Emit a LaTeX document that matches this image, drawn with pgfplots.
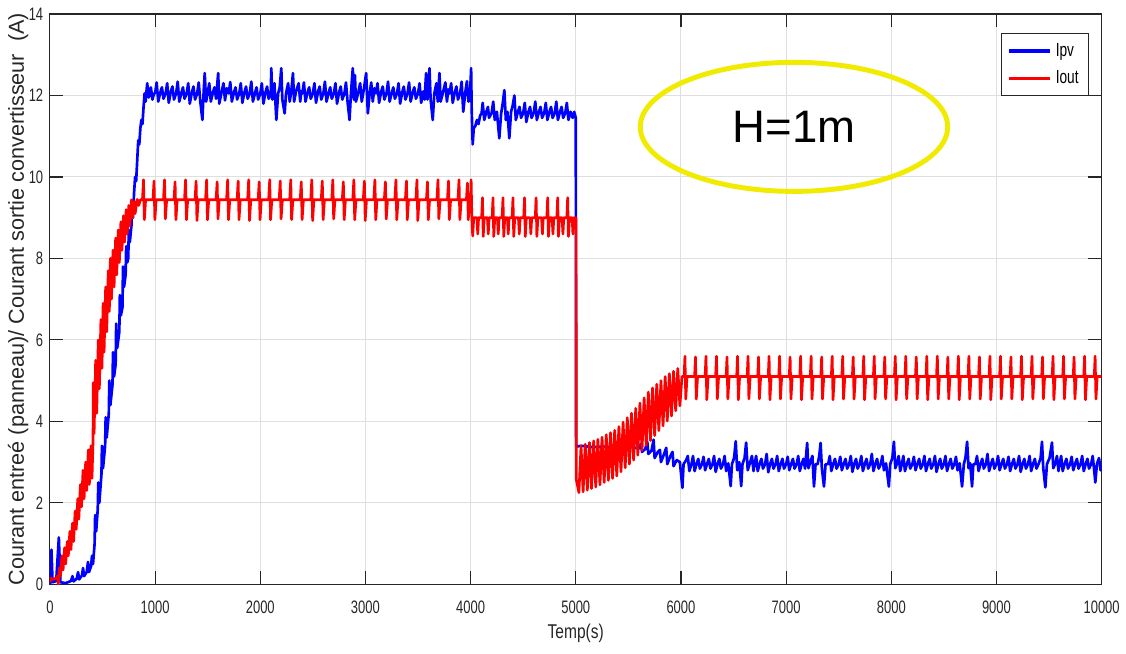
\documentclass[border=0pt]{standalone}
\usepackage{fontspec}
\setmainfont{Liberation Sans}
\newfontfamily\condf[FakeStretch=0.72]{Liberation Sans}
\newfontfamily\condfb[FakeStretch=0.78]{Liberation Sans}
\usepackage{pgfplots}
\pgfplotsset{compat=1.18}
\definecolor{axgray}{RGB}{38,38,38}
\definecolor{gridgray}{RGB}{223,223,223}
\definecolor{ellyellow}{RGB}{240,235,0}
\definecolor{pvblue}{RGB}{0,0,255}
\definecolor{outred}{RGB}{255,0,0}
\newcommand\tickf{\condf\fontsize{9.5}{11}\selectfont}
\newcommand\legf{\condf\fontsize{10}{12}\selectfont}
\newcommand\xlabf{\condfb\fontsize{10.5}{12}\selectfont}
\newcommand\ylabf{\fontsize{11.4}{13}\selectfont}
\begin{document}
\begin{tikzpicture}
\begin{axis}[
  scale only axis, width=554.2pt, height=300.5pt,
  xmin=0, xmax=10000, ymin=0, ymax=14,
  xtick={0,1000,...,10000}, ytick={0,2,...,14},
  scaled x ticks=false, scaled y ticks=false,
  /pgf/number format/1000 sep={},
  /pgf/number format/assume math mode=true,
  tick label style={font=\tickf, text=axgray},
  xticklabel style={yshift=-5pt},
  grid=major, major grid style={draw=gridgray, line width=0.5pt},
  axis line style={draw=axgray, line width=0.6pt},
  major tick length=7pt,
  tick style={draw=axgray, line width=0.6pt},
  xlabel={Temp(s)},
  ylabel={Courant entreé (panneau)/ Courant sortie convertisseur\ \ (A)},
  xlabel style={font=\xlabf, text=axgray, at={(axis description cs:0.5,-0.0859)}, anchor=center},
  ylabel style={font=\ylabf, text=axgray, at={(axis description cs:-0.0303,0.5)}, anchor=center},
  legend style={at={(0.9877,0.9667)}, anchor=north east, font=\legf, draw=axgray, line width=0.6pt, inner sep=3pt, row sep=2pt},
  legend cell align=left,
  legend image code/.code={\draw[line width=1.8pt] (0pt,0pt) -- (22pt,0pt);},
]
% Ipv
\addplot[pvblue, line width=1.4pt, line join=round] coordinates {
(0,0)(15,0.85)(25,0.05)(60,0.08)(85,1.15)(100,0.05)(150,0.03)(200,0.08)(215,0.2)(225,0.07)(255,0.14)(268,0.3)(278,0.12)(305,0.22)(315,0.4)(325,0.2)(350,0.3)(362,0.55)(372,0.3)(392,0.45)(400,0.7)(410,0.5)
(425,1.0)(430,1.7)(440,1.3)(455,1.85)(460,2.5)(470,2.0)(490,2.7)(495,3.4)(505,2.85)(525,3.4)(530,4.1)(540,3.6)(560,4.2)(565,5.0)(575,4.4)(595,4.9)(600,5.7)(610,5.1)(625,5.4)(630,6.4)(640,5.8)(660,6.2)(665,7.1)(675,6.6)(690,6.8)(695,7.8)(705,7.3)(720,7.6)(725,8.3)(735,7.9)(745,8.0)(750,8.7)(760,8.4)(775,8.8)(780,9.3)(790,9.0)(800,9.6)(810,10.0)(820,9.9)(830,10.4)(840,10.9)(850,10.8)(860,11.2)(870,11.4)(880,11.3)(890,11.7)(900,12.05)(910,11.85)(925,12.3)(940,11.95)(960,12.2)(975,11.9)(990,12.05)
(1000,12.05)(1015,12.32)(1030,11.85)(1050,12.08)(1065,12.2)(1080,11.92)
(1100,12.05)(1115,12.3)(1130,11.82)(1150,12.1)(1165,12.22)(1180,11.9)
(1200,12.05)(1215,12.34)(1230,11.85)(1250,12.06)(1265,12.2)(1280,11.92)
(1300,12.05)(1315,12.3)(1330,11.8)(1350,12.08)(1365,12.22)(1380,11.9)
(1400,12.05)(1415,12.32)(1430,11.85)(1450,11.4)(1462,12.1)(1472,12.55)(1485,11.85)
(1500,12.05)(1515,12.3)(1530,11.85)(1550,12.08)(1565,12.2)(1580,11.92)
(1600,12.55)(1610,11.8)(1630,12.05)(1650,12.3)(1665,11.88)(1680,12.18)
(1700,12.05)(1715,12.33)(1730,11.85)(1750,12.08)(1765,12.2)(1780,11.9)
(1800,12.05)(1815,12.3)(1830,11.82)(1850,12.08)(1865,12.22)(1880,11.92)
(1900,12.05)(1915,12.34)(1930,11.85)(1950,12.06)(1965,12.2)(1980,11.9)
(2000,12.05)(2015,12.3)(2030,11.8)(2050,12.08)(2065,12.22)(2080,11.92)
(2100,12.05)(2105,12.67)(2115,11.9)(2135,12.3)(2153,11.4)(2170,12.05)(2185,12.2)
(2200,12.67)(2210,11.9)(2232,11.56)(2245,12.05)(2265,12.3)(2280,11.85)(2295,12.1)
(2311,12.55)(2322,11.85)(2340,12.1)(2365,12.3)(2380,11.85)(2390,12.1)
(2400,12.05)(2415,12.32)(2430,11.85)(2450,12.08)(2465,12.2)(2480,11.92)
(2500,12.05)(2515,12.3)(2530,11.82)(2550,12.1)(2565,12.22)(2580,11.9)
(2600,12.05)(2615,12.34)(2630,11.85)(2650,12.06)(2665,12.2)(2680,11.92)
(2700,12.05)(2715,12.3)(2730,11.8)(2750,12.08)(2765,12.22)(2780,11.9)
(2800,12.05)(2815,12.32)(2830,11.85)(2849,11.4)(2862,12.05)(2880,12.67)(2890,11.9)
(2900,12.5)(2910,11.85)(2930,12.05)(2950,12.3)(2965,11.85)(2985,12.15)
(3007,12.55)(3023,11.56)(3040,12.05)(3055,12.32)(3070,11.85)(3085,12.18)
(3100,12.05)(3115,12.3)(3130,11.82)(3150,12.1)(3165,12.22)(3180,11.9)
(3200,12.05)(3215,12.34)(3230,11.85)(3250,12.06)(3265,12.2)(3280,11.92)
(3300,12.05)(3315,12.3)(3330,11.8)(3350,12.08)(3365,12.22)(3380,11.9)
(3400,12.05)(3415,12.32)(3430,11.85)(3450,12.08)(3465,12.2)(3480,11.92)
(3500,12.05)(3515,12.3)(3530,11.82)(3550,12.1)(3562,11.9)
(3577,12.55)(3590,11.9)(3609,12.67)(3620,11.9)(3640,11.4)(3655,12.05)(3675,12.3)(3688,11.85)
(3704,12.55)(3715,11.85)(3735,12.05)(3760,12.32)(3775,11.85)(3788,12.15)
(3800,12.05)(3815,12.3)(3830,11.82)(3850,12.08)(3865,12.22)(3880,11.9)
(3900,12.05)(3915,12.34)(3930,11.6)(3950,12.08)(3965,12.35)(3980,11.85)(3995,12.05)
(4005,12.67)(4010,11.7)(4020,10.8)(4030,11.2)(4045,11.25)(4060,11.4)(4075,11.3)(4090,11.5)(4105,11.57)(4115,11.82)(4130,11.4)(4150,11.6)(4165,11.72)(4175,11.45)(4200,11.57)(4215,11.85)(4230,11.4)(4250,11.6)(4273,10.95)(4290,11.55)(4305,11.8)(4321,12.13)(4335,11.4)(4350,11.6)(4368,10.95)(4385,11.6)(4400,11.75)(4416,12.0)(4430,11.4)(4450,11.6)(4465,11.72)(4480,11.45)(4500,11.57)(4515,11.82)(4530,11.35)(4550,11.6)(4565,11.72)(4580,11.45)(4600,11.57)(4615,11.85)(4630,11.4)(4650,11.6)(4665,11.72)(4680,11.45)(4700,11.57)(4715,11.82)(4730,11.4)(4750,11.6)(4765,11.72)(4780,11.45)(4800,11.57)(4815,11.85)(4830,11.4)(4850,11.6)(4865,11.72)(4880,11.45)(4900,11.57)(4915,11.82)(4930,11.4)(4950,11.6)(4970,11.45)(4985,11.6)(5000,11.45)(5003,3.38)
(5050,3.4)(5150,3.37)(5250,3.38)(5350,3.36)(5450,3.37)(5550,3.36)(5600,3.33)(5620,3.45)(5630,3.25)(5660,3.32)(5680,3.5)(5690,3.2)(5720,3.28)(5740,3.55)(5750,3.1)(5780,3.25)(5800,3.3)(5810,3.0)(5840,3.2)(5860,3.35)(5870,2.95)(5900,3.15)(5920,3.25)(5930,2.9)(5960,3.05)(5990,3.0)(6005,2.6)(6014,2.37)(6025,2.95)(6050,3.05)(6065,3.15)(6080,2.78)
(6100,2.95)(6115,3.15)(6130,2.78)(6150,2.97)(6165,3.08)(6180,2.84)
(6200,2.95)(6215,3.13)(6230,2.8)(6250,2.97)(6265,3.08)(6280,2.84)
(6300,2.95)(6315,3.15)(6330,2.76)(6350,2.97)(6365,3.08)(6380,2.84)
(6400,2.95)(6415,3.15)(6430,2.78)(6450,2.97)(6473,2.41)(6485,2.95)
(6505,3.1)(6521,3.51)(6535,2.8)(6555,3.0)(6573,2.41)(6585,2.95)
(6605,3.1)(6620,3.48)(6635,2.8)(6655,2.97)(6675,3.15)(6690,2.78)
(6700,2.95)(6715,3.15)(6730,2.78)(6750,2.97)(6765,3.08)(6780,2.84)
(6800,2.95)(6815,3.2)(6830,2.75)(6850,2.97)(6865,3.08)(6880,2.84)
(6900,2.95)(6915,3.15)(6930,2.78)(6950,2.97)(6965,3.08)(6980,2.84)
(7000,2.95)(7015,3.13)(7030,2.8)(7050,2.97)(7065,3.08)(7080,2.84)
(7100,2.95)(7115,3.15)(7130,2.78)(7150,2.97)(7165,3.08)(7180,2.84)
(7200,3.47)(7212,2.85)(7230,3.0)(7250,3.15)(7265,2.4)(7280,2.95)
(7300,2.95)(7315,3.15)(7328,3.47)(7340,2.85)(7360,2.4)(7375,2.95)
(7400,2.95)(7415,3.15)(7430,2.78)(7450,2.97)(7465,3.08)(7480,2.84)
(7500,2.95)(7515,3.13)(7530,2.8)(7550,2.97)(7565,3.08)(7580,2.84)
(7600,2.95)(7615,3.15)(7630,2.76)(7650,2.97)(7665,3.08)(7680,2.84)
(7700,2.95)(7715,3.15)(7730,2.78)(7750,2.97)(7765,3.08)(7780,2.84)
(7800,2.95)(7815,3.2)(7830,2.78)(7850,2.97)(7865,3.08)(7880,2.84)
(7900,2.95)(7915,3.15)(7930,2.8)(7950,2.97)(7977,2.4)(7990,2.95)
(8010,3.1)(8025,3.5)(8038,2.85)(8055,2.97)(8070,3.15)(8085,2.78)
(8100,2.95)(8115,3.15)(8130,2.78)(8150,2.97)(8165,3.08)(8180,2.84)
(8200,2.95)(8215,3.13)(8230,2.8)(8250,2.97)(8265,3.08)(8280,2.84)
(8300,2.95)(8315,3.15)(8330,2.78)(8350,2.97)(8365,3.08)(8380,2.84)
(8400,2.95)(8415,3.15)(8430,2.76)(8450,2.97)(8465,3.08)(8480,2.84)
(8500,2.95)(8515,3.15)(8530,2.78)(8550,2.97)(8565,3.08)(8580,2.84)
(8600,2.95)(8615,3.13)(8630,2.8)(8650,2.97)(8673,2.4)(8690,2.95)
(8705,3.1)(8721,3.5)(8735,2.85)(8750,2.97)(8768,2.4)(8780,2.95)
(8800,2.95)(8815,3.15)(8830,2.78)(8850,2.97)(8865,3.08)(8880,2.84)
(8900,2.95)(8915,3.2)(8930,2.78)(8950,2.97)(8965,3.08)(8980,2.84)
(9000,2.95)(9015,3.15)(9030,2.8)(9050,2.97)(9065,3.08)(9080,2.84)
(9100,2.95)(9115,3.13)(9130,2.78)(9150,2.97)(9165,3.08)(9180,2.84)
(9200,2.95)(9215,3.15)(9230,2.76)(9250,2.97)(9265,3.08)(9280,2.84)
(9300,2.95)(9315,3.15)(9330,2.78)(9350,2.97)(9365,3.08)(9380,2.84)
(9400,2.95)(9420,3.1)(9433,3.5)(9445,2.85)(9465,2.38)(9480,2.95)
(9505,3.1)(9528,3.48)(9540,2.85)(9560,2.97)(9575,3.15)(9590,2.78)
(9600,2.95)(9615,3.15)(9630,2.78)(9650,2.97)(9665,3.08)(9680,2.84)
(9700,2.95)(9715,3.13)(9730,2.8)(9750,2.97)(9765,3.08)(9780,2.84)
(9800,2.95)(9815,3.15)(9830,2.78)(9850,2.97)(9865,3.08)(9880,2.84)
(9900,2.95)(9915,3.15)(9930,2.78)(9940,2.5)(9955,2.95)(9975,3.1)(9990,2.8)(10000,2.92)
};
\addlegendentry{Ipv}
% Iout
\addplot[outred, line width=1.4pt, line join=round] coordinates {
(0,0.05)(10,0.15)(20,0.12)(60,0.15)(70,0.2)(80,0.0)(90,0.4)(100,0.2)(115,0.7)(125,0.35)(140,0.9)(150,0.5)(165,1.05)(175,0.7)(190,1.3)(200,0.85)(215,1.5)(225,1.05)(240,1.8)(250,1.35)(265,2.1)(275,1.6)(290,2.45)(300,1.9)(315,2.8)(325,2.1)(340,3.0)(350,2.3)(365,3.3)(375,2.45)(390,3.4)(400,2.6)(410,3.5)(412,4.95)(420,3.7)(435,5.5)(445,4.2)(460,6.0)(470,4.8)(485,6.5)(495,5.3)(506,6.9)(515,5.7)(530,7.3)(540,6.2)(555,7.7)(565,6.7)(575,8.0)(585,7.0)(600,8.2)(610,7.3)(625,8.5)(635,7.6)(650,8.7)(660,7.9)(675,8.9)(685,8.2)(700,9.05)(710,8.4)(725,9.2)(735,8.6)(750,9.3)(760,8.8)(775,9.44)(785,9.0)(800,9.4)(810,9.1)(830,9.45)(845,9.3)(860,9.44)
(880,9.44)(890,9.93)(898,8.95)(910,9.44)
(980,9.44)(990,9.9)(998,8.95)(1010,9.44)
(1080,9.44)(1090,9.93)(1098,8.97)(1110,9.44)
(1180,9.44)(1190,9.88)(1198,8.95)(1210,9.44)
(1280,9.44)(1290,9.93)(1298,8.95)(1310,9.44)
(1380,9.44)(1390,9.9)(1398,8.93)(1410,9.44)
(1480,9.44)(1490,9.93)(1498,8.95)(1510,9.44)
(1580,9.44)(1590,9.88)(1598,8.97)(1610,9.44)
(1680,9.44)(1690,9.93)(1698,8.95)(1710,9.44)
(1780,9.44)(1790,9.9)(1798,8.95)(1810,9.44)
(1880,9.44)(1890,9.93)(1898,8.93)(1910,9.44)
(1980,9.44)(1990,9.88)(1998,8.95)(2010,9.44)
(2080,9.44)(2090,9.93)(2098,8.95)(2110,9.44)
(2180,9.44)(2190,9.9)(2198,8.97)(2210,9.44)
(2280,9.44)(2290,9.93)(2298,8.95)(2310,9.44)
(2380,9.44)(2390,9.88)(2398,8.95)(2410,9.44)
(2480,9.44)(2490,9.93)(2498,8.93)(2510,9.44)
(2580,9.44)(2590,9.9)(2598,8.95)(2610,9.44)
(2680,9.44)(2690,9.93)(2698,8.97)(2710,9.44)
(2780,9.44)(2790,9.88)(2798,8.95)(2810,9.44)
(2880,9.44)(2890,9.93)(2898,8.95)(2910,9.44)
(2980,9.44)(2990,9.9)(2998,8.93)(3010,9.44)
(3080,9.44)(3090,9.93)(3098,8.95)(3110,9.44)
(3180,9.44)(3190,9.88)(3198,8.97)(3210,9.44)
(3280,9.44)(3290,9.93)(3298,8.95)(3310,9.44)
(3380,9.44)(3390,9.9)(3398,8.95)(3410,9.44)
(3480,9.44)(3490,9.93)(3498,8.93)(3510,9.44)
(3580,9.44)(3590,9.88)(3598,8.95)(3610,9.44)
(3680,9.44)(3690,9.93)(3698,8.97)(3710,9.44)
(3780,9.44)(3790,9.9)(3798,8.95)(3810,9.44)
(3880,9.44)(3890,9.93)(3898,8.95)(3910,9.44)
(3960,9.44)(3970,9.85)(3978,8.95)(3990,9.44)
(4000,9.44)(4005,9.93)(4012,9.0)(4020,8.55)(4030,9.0)
(4060,9.0)(4068,8.6)(4076,9.0)
(4105,9.0)(4113,9.49)(4120,8.54)(4130,9.0)
(4160,9.0)(4168,8.6)(4176,9.0)
(4205,9.0)(4213,9.49)(4220,8.54)(4230,9.0)
(4255,9.0)(4263,8.6)(4271,9.0)
(4300,9.0)(4308,9.49)(4315,8.54)(4325,9.0)
(4350,9.0)(4358,8.6)(4366,9.0)
(4395,9.0)(4403,9.49)(4410,8.54)(4420,9.0)
(4455,9.0)(4463,8.6)(4471,9.0)
(4505,9.0)(4513,9.49)(4520,8.54)(4530,9.0)
(4565,9.0)(4573,8.6)(4581,9.0)
(4615,9.0)(4623,9.49)(4630,8.54)(4640,9.0)
(4675,9.0)(4683,8.6)(4691,9.0)
(4725,9.0)(4733,9.49)(4740,8.54)(4750,9.0)
(4775,9.0)(4783,8.6)(4791,9.0)
(4820,9.0)(4828,9.49)(4835,8.54)(4845,9.0)
(4870,9.0)(4878,8.6)(4886,9.0)
(4915,9.0)(4923,9.49)(4930,8.54)(4940,9.0)
(4965,9.0)(4973,8.6)(4981,9.0)
(5003,9.0)(5005,2.57)
(5030,2.25)(5050,3.4)(5070,2.27)(5090,3.44)(5110,2.31)(5130,3.48)(5150,2.35)(5170,3.52)(5190,2.39)(5210,3.56)(5230,2.44)(5250,3.61)(5270,2.5)(5290,3.67)(5310,2.55)(5330,3.72)(5350,2.6)(5370,3.78)(5390,2.66)(5410,3.87)(5430,2.76)(5450,3.98)(5470,2.86)(5490,4.09)(5510,2.95)(5530,4.2)(5550,3.05)(5570,4.32)(5590,3.17)(5610,4.45)(5630,3.29)(5650,4.58)(5670,3.41)(5690,4.72)(5710,3.53)(5730,4.82)(5750,3.65)(5770,4.91)(5790,3.77)(5810,5.0)(5830,3.89)(5850,5.1)(5870,4.01)(5890,5.17)(5910,4.13)(5930,5.23)(5950,4.26)(5970,5.3)(5990,4.38)(6010,5.1)
(6030,5.1)(6038,5.6)(6046,4.55)(6058,5.1)
(6130,5.1)(6138,5.58)(6146,4.55)(6158,5.1)
(6230,5.1)(6238,5.6)(6246,4.53)(6258,5.1)
(6330,5.1)(6338,5.6)(6346,4.55)(6358,5.1)
(6430,5.1)(6438,5.58)(6446,4.55)(6458,5.1)
(6530,5.1)(6538,5.6)(6546,4.53)(6558,5.1)
(6630,5.1)(6638,5.6)(6646,4.55)(6658,5.1)
(6730,5.1)(6738,5.58)(6746,4.55)(6758,5.1)
(6830,5.1)(6838,5.6)(6846,4.53)(6858,5.1)
(6930,5.1)(6938,5.6)(6946,4.55)(6958,5.1)
(7030,5.1)(7038,5.58)(7046,4.55)(7058,5.1)
(7130,5.1)(7138,5.6)(7146,4.53)(7158,5.1)
(7230,5.1)(7238,5.6)(7246,4.55)(7258,5.1)
(7330,5.1)(7338,5.58)(7346,4.55)(7358,5.1)
(7430,5.1)(7438,5.6)(7446,4.53)(7458,5.1)
(7530,5.1)(7538,5.6)(7546,4.55)(7558,5.1)
(7630,5.1)(7638,5.58)(7646,4.55)(7658,5.1)
(7730,5.1)(7738,5.6)(7746,4.53)(7758,5.1)
(7830,5.1)(7838,5.6)(7846,4.55)(7858,5.1)
(7930,5.1)(7938,5.58)(7946,4.55)(7958,5.1)
(8030,5.1)(8038,5.6)(8046,4.53)(8058,5.1)
(8130,5.1)(8138,5.6)(8146,4.55)(8158,5.1)
(8230,5.1)(8238,5.58)(8246,4.55)(8258,5.1)
(8330,5.1)(8338,5.6)(8346,4.53)(8358,5.1)
(8430,5.1)(8438,5.6)(8446,4.55)(8458,5.1)
(8530,5.1)(8538,5.58)(8546,4.55)(8558,5.1)
(8630,5.1)(8638,5.6)(8646,4.53)(8658,5.1)
(8730,5.1)(8738,5.6)(8746,4.55)(8758,5.1)
(8830,5.1)(8838,5.58)(8846,4.55)(8858,5.1)
(8930,5.1)(8938,5.6)(8946,4.53)(8958,5.1)
(9030,5.1)(9038,5.6)(9046,4.55)(9058,5.1)
(9130,5.1)(9138,5.58)(9146,4.55)(9158,5.1)
(9230,5.1)(9238,5.6)(9246,4.53)(9258,5.1)
(9330,5.1)(9338,5.6)(9346,4.55)(9358,5.1)
(9430,5.1)(9438,5.58)(9446,4.55)(9458,5.1)
(9530,5.1)(9538,5.6)(9546,4.53)(9558,5.1)
(9630,5.1)(9638,5.6)(9646,4.55)(9658,5.1)
(9730,5.1)(9738,5.58)(9746,4.55)(9758,5.1)
(9830,5.1)(9838,5.6)(9846,4.53)(9858,5.1)
(9930,5.1)(9938,5.6)(9946,4.55)(9958,5.1)(10000,5.1)
};
\addlegendentry{Iout}
\draw[ellyellow, line width=2.6pt] (axis cs:7075,11.23) ellipse [x radius=81pt, y radius=34pt];
\node[text=black, font=\fontsize{24}{28}\selectfont] at (axis cs:7075,11.23) {H=1m};
\end{axis}
\path[use as bounding box] ([xshift=-26.3pt,yshift=-36.3pt]current axis.south west) rectangle ([xshift=12.1pt,yshift=7.4pt]current axis.north east);
\end{tikzpicture}
\end{document}
